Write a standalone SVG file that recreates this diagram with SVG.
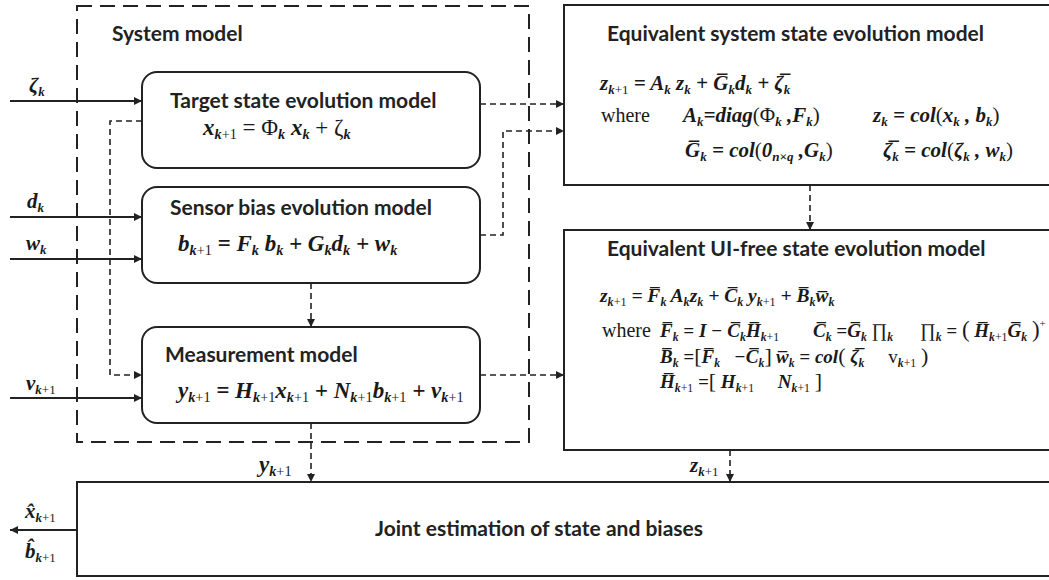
<svg xmlns="http://www.w3.org/2000/svg" width="1049" height="580" viewBox="0 0 1049 580">
  <style>
    .box{fill:#fff;stroke:#222;stroke-width:2}
    .grp{fill:none;stroke:#222;stroke-width:2;stroke-dasharray:15 8}
    .dsh{fill:none;stroke:#222;stroke-width:1.6;stroke-dasharray:6 4}
    .sol{fill:none;stroke:#222;stroke-width:2}
    .h{font-family:Lato,"Open Sans",sans-serif;font-weight:bold;font-size:21px;fill:#222}
    .m{font-family:"Liberation Serif","DejaVu Serif",serif;font-style:italic;font-weight:bold;fill:#1a1a1a}
    .r{font-style:normal;font-weight:normal}
    .sb{font-size:0.62em;baseline-shift:-0.3em}
    .w{font-family:"Liberation Serif","DejaVu Serif",serif;font-size:20px;fill:#1a1a1a}
  </style>
  <defs>
    <marker id="ah" viewBox="0 0 10 10" refX="10" refY="5" markerWidth="9" markerHeight="8" markerUnits="userSpaceOnUse" orient="auto">
      <path d="M0,0 L10,5 L0,10 z" fill="#222"/>
    </marker>
  </defs>

  <rect width="1049" height="580" fill="#fff"/>

  <!-- system model grouping -->
  <g id="system-model">
    <rect class="grp" x="77" y="6" width="452" height="436"/>
    <text class="h" x="112" y="41">System model</text>
  </g>

  <!-- connectors -->
  <g id="connectors">
    <line class="sol" x1="10" y1="101" x2="142" y2="101" marker-end="url(#ah)"/>
    <line class="sol" x1="10" y1="217" x2="142" y2="217" marker-end="url(#ah)"/>
    <line class="sol" x1="10" y1="259" x2="142" y2="259" marker-end="url(#ah)"/>
    <line class="sol" x1="10" y1="398" x2="142" y2="398" marker-end="url(#ah)"/>
    <polyline class="dsh" points="142,121 110,121 110,375 142,375" marker-end="url(#ah)"/>
    <line class="dsh" x1="480" y1="104" x2="564" y2="104" marker-end="url(#ah)"/>
    <polyline class="dsh" points="480,235 503,235 503,131 564,131" marker-end="url(#ah)"/>
    <line class="dsh" x1="480" y1="375" x2="564" y2="375" marker-end="url(#ah)"/>
    <line class="dsh" x1="311" y1="283" x2="311" y2="327" marker-end="url(#ah)"/>
    <line class="dsh" x1="311" y1="423" x2="311" y2="482" marker-end="url(#ah)"/>
    <line class="dsh" x1="810" y1="185" x2="810" y2="230" marker-end="url(#ah)"/>
    <line class="dsh" x1="730" y1="450" x2="730" y2="482" marker-end="url(#ah)"/>
    <line class="sol" x1="77" y1="530" x2="10" y2="530" marker-end="url(#ah)"/>
    <text class="m" font-size="21" x="29" y="92">ζ<tspan class="sb">k</tspan></text>
    <text class="m" font-size="21" x="27" y="208">d<tspan class="sb">k</tspan></text>
    <text class="m" font-size="21" x="26" y="250">w<tspan class="sb">k</tspan></text>
    <text class="m" font-size="21" x="26" y="390">v<tspan class="sb">k<tspan class="r">+1</tspan></tspan></text>
    <text class="m" font-size="23" x="259" y="472">y<tspan class="sb">k<tspan class="r">+1</tspan></tspan></text>
    <text class="m" font-size="21" font-weight="normal" x="690" y="472">z<tspan class="sb">k<tspan class="r">+1</tspan></tspan></text>
    <text class="m" font-size="21" x="25" y="518">x̂<tspan class="sb">k<tspan class="r">+1</tspan></tspan></text>
    <text class="m" font-size="21" x="25" y="558">b̂<tspan class="sb">k<tspan class="r">+1</tspan></tspan></text>
  </g>

  <g id="target-state">
    <rect class="box" x="142" y="72" width="338" height="96" rx="15"/>
    <text class="h" x="170" y="108">Target state evolution model</text>
    <text class="m" font-size="23" x="203" y="135">x<tspan class="sb">k<tspan class="r">+1</tspan></tspan> <tspan class="r">=</tspan> <tspan class="r">Φ</tspan><tspan class="sb">k</tspan> x<tspan class="sb">k</tspan> <tspan class="r">+</tspan> <tspan class="r">ζ</tspan><tspan class="sb">k</tspan></text>
  </g>

  <g id="sensor-bias">
    <rect class="box" x="142" y="187" width="338" height="96" rx="15"/>
    <text class="h" x="170" y="215">Sensor bias evolution model</text>
    <text class="m" font-size="23" x="178" y="251">b<tspan class="sb">k<tspan class="r">+1</tspan></tspan> = F<tspan class="sb">k</tspan> b<tspan class="sb">k</tspan> + G<tspan class="sb">k</tspan>d<tspan class="sb">k</tspan> + w<tspan class="sb">k</tspan></text>
  </g>

  <g id="measurement">
    <rect class="box" x="142" y="327" width="338" height="96" rx="15"/>
    <text class="h" x="165" y="362">Measurement model</text>
    <text class="m" font-size="23" x="178" y="398">y<tspan class="sb">k<tspan class="r">+1</tspan></tspan> = H<tspan class="sb">k<tspan class="r">+1</tspan></tspan>x<tspan class="sb">k<tspan class="r">+1</tspan></tspan> + N<tspan class="sb">k<tspan class="r">+1</tspan></tspan>b<tspan class="sb">k<tspan class="r">+1</tspan></tspan> + v<tspan class="sb">k<tspan class="r">+1</tspan></tspan></text>
  </g>

  <g id="equivalent-system">
    <rect class="box" x="564" y="5" width="495" height="180"/>
    <text class="h" x="607" y="41">Equivalent system state evolution model</text>
    <text class="m" font-size="21" x="600" y="90">z<tspan class="sb">k<tspan class="r">+1</tspan></tspan> = A<tspan class="sb">k</tspan> z<tspan class="sb">k</tspan> + G̅<tspan class="sb">k</tspan>d<tspan class="sb">k</tspan> + ζ̅<tspan class="sb">k</tspan></text>
    <text class="w" x="601" y="122">where</text>
    <text class="m" font-size="21" x="683" y="122">A<tspan class="sb">k</tspan>=diag<tspan class="r">(Φ</tspan><tspan class="sb">k</tspan> ,F<tspan class="sb">k</tspan><tspan class="r">)</tspan></text>
    <text class="m" font-size="21" x="873" y="122">z<tspan class="sb">k</tspan> = col<tspan class="r">(</tspan>x<tspan class="sb">k</tspan> , b<tspan class="sb">k</tspan><tspan class="r">)</tspan></text>
    <text class="m" font-size="21" x="685" y="157">G̅<tspan class="sb">k</tspan> = col<tspan class="r">(</tspan>0<tspan class="sb">n×q</tspan> ,G<tspan class="sb">k</tspan><tspan class="r">)</tspan></text>
    <text class="m" font-size="21" x="883" y="157">ζ̅<tspan class="sb">k</tspan> = col<tspan class="r">(</tspan>ζ<tspan class="sb">k</tspan> , w<tspan class="sb">k</tspan><tspan class="r">)</tspan></text>
  </g>

  <g id="equivalent-ui-free">
    <rect class="box" x="564" y="230" width="495" height="220"/>
    <text class="h" x="607" y="256">Equivalent UI-free state evolution model</text>
    <text class="m" font-size="19.5" x="600" y="302">z<tspan class="sb">k<tspan class="r">+1</tspan></tspan> = F̅<tspan class="sb">k</tspan> A<tspan class="sb">k</tspan>z<tspan class="sb">k</tspan> + C̅<tspan class="sb">k</tspan> y<tspan class="sb">k<tspan class="r">+1</tspan></tspan> + B̅<tspan class="sb">k</tspan>w̅<tspan class="sb">k</tspan></text>
    <text class="w" x="602" y="337">where</text>
    <text class="m" font-size="19" x="660" y="337">F̅<tspan class="sb">k</tspan> = I − C̅<tspan class="sb">k</tspan>H̅<tspan class="sb">k<tspan class="r">+1</tspan></tspan></text>
    <text class="m" font-size="19" x="813" y="337">C̅<tspan class="sb">k</tspan> =G̅<tspan class="sb">k</tspan> <tspan class="r">∏</tspan><tspan class="sb">k</tspan></text>
    <text class="m" font-size="19" x="920" y="337"><tspan class="r">∏</tspan><tspan class="sb">k</tspan> = <tspan class="r" font-size="23">(</tspan> H̅<tspan class="sb">k<tspan class="r">+1</tspan></tspan>G̅<tspan class="sb">k</tspan> <tspan class="r" font-size="23">)</tspan><tspan class="r" font-size="11" baseline-shift="10">+</tspan></text>
    <text class="m" font-size="19" x="660" y="363">B̅<tspan class="sb">k</tspan> =<tspan class="r" font-size="22">[</tspan>F̅<tspan class="sb">k</tspan>&#160;&#160;&#160;−C̅<tspan class="sb">k</tspan><tspan class="r" font-size="22">]</tspan></text>
    <text class="m" font-size="19" x="776" y="363">w̅<tspan class="sb">k</tspan> = col<tspan class="r" font-size="22">(</tspan> ζ̅<tspan class="sb">k</tspan>&#160;&#160;&#160;&#160;&#160;<tspan class="r" font-style="italic">v</tspan><tspan class="sb">k<tspan class="r">+1</tspan></tspan> <tspan class="r" font-size="22">)</tspan></text>
    <text class="m" font-size="19" x="660" y="388">H̅<tspan class="sb">k<tspan class="r">+1</tspan></tspan> =<tspan class="r" font-size="22">[</tspan> H<tspan class="sb">k<tspan class="r">+1</tspan></tspan>&#160;&#160;&#160;&#160;&#160;N<tspan class="sb">k<tspan class="r">+1</tspan></tspan> <tspan class="r" font-size="22">]</tspan></text>
  </g>

  <g id="joint-estimation">
    <rect class="box" x="77" y="482" width="982" height="94"/>
    <text class="h" font-size="16.6" x="375" y="536">Joint estimation of state and biases</text>
  </g>
</svg>
